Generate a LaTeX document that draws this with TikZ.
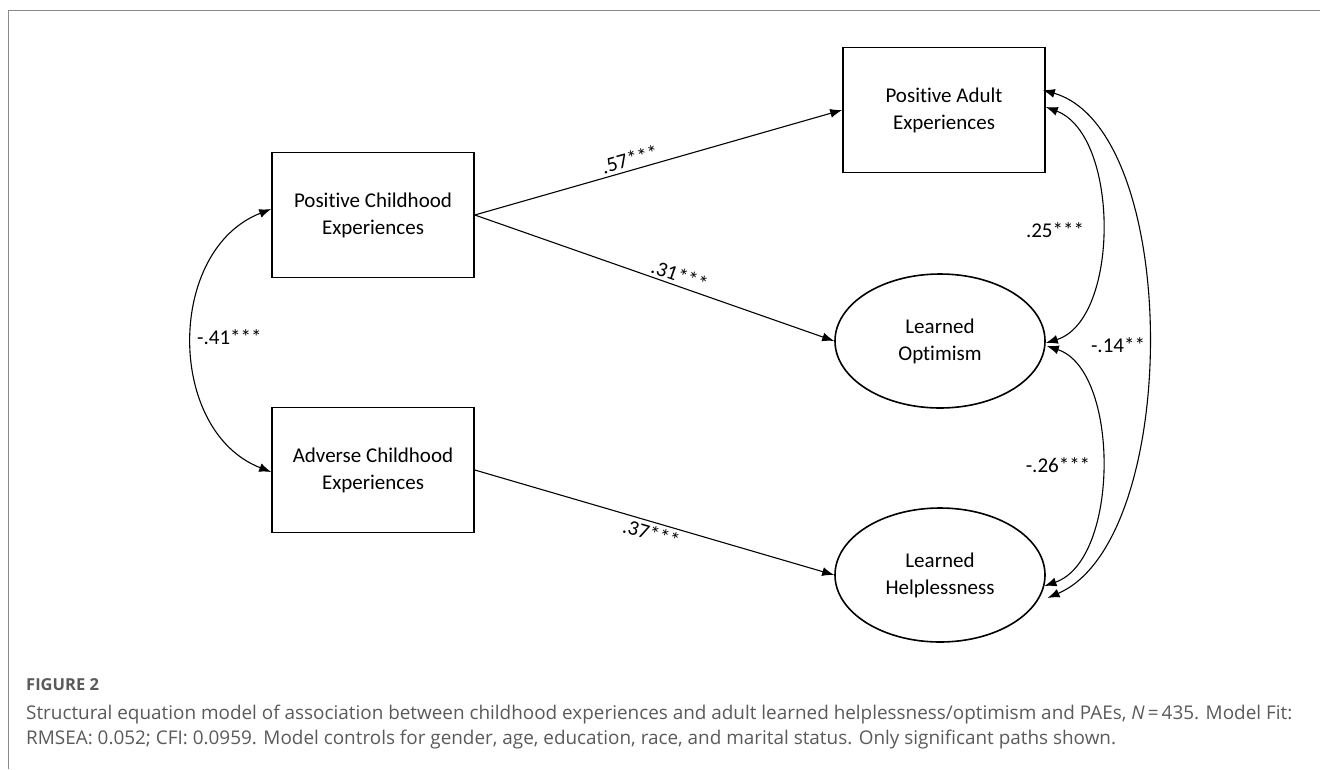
\documentclass[tikz,border=0pt]{standalone}
\usepackage{fontspec}
\setmainfont{Carlito}[Ligatures=CommonOff]
\newfontfamily\capfont{Open Sans}
\usetikzlibrary{arrows.meta,shapes.geometric,calc}
\definecolor{capgray}{HTML}{5A5A5A}
\definecolor{framegray}{HTML}{8A8A8A}
\begin{document}
\begin{tikzpicture}[x=1pt,y=-1pt,
  boxnode/.style={draw,line width=1.6pt,minimum width=202pt,minimum height=125pt,align=center,inner sep=0pt,font=\fontsize{21}{27}\selectfont},
  ellnode/.style={draw,ellipse,line width=1.6pt,minimum width=210pt,minimum height=134pt,align=center,inner sep=0pt,font=\fontsize{21}{27}\selectfont},
  tip/.tip={Latex[length=12pt,width=9pt]},
  conn/.style={line width=1.1pt,-tip},
  biconn/.style={line width=1.1pt,tip-tip},
  coef/.style={font=\fontsize{21}{24}\selectfont,inner sep=3pt},
  captext/.style={font=\capfont\fontsize{18.9}{22}\selectfont,text=capgray,inner sep=0pt,anchor=base west}
]
\useasboundingbox (0,0) rectangle (1320,769);
% frame
\draw[framegray,line width=1pt] (8.5,769) -- (8.5,10.5) -- (1320,10.5);

% nodes
\node[boxnode] (pce) at (373,215) {Positive Childhood\\Experiences};
\node[boxnode] (ace) at (373,470) {Adverse Childhood\\Experiences};
\node[boxnode] (pae) at (944,110) {Positive Adult\\Experiences};
\node[ellnode] (lo) at (940,341) {Learned\\Optimism};
\node[ellnode] (lh) at (940,575) {Learned\\Helplessness};

% directed paths
\draw[conn] (pce.east) -- node[coef,sloped,above,pos=0.43] {.57***} (pae.west);
\draw[conn] (pce.east) -- node[coef,sloped,above,pos=0.56] {.31***} (lo.west);
\draw[conn] (ace.east) -- node[coef,sloped,below,pos=0.5] {.37***} (lh.west);

% covariances
\draw[biconn] ($(pce.west)+(0,-6)$) .. controls (166,250) and (166,431) .. ($(ace.west)+(0,2)$);
\node[coef,anchor=west,inner sep=0pt] (l41) at (197,337) {-.41***};

\draw[biconn] ($(pae.east)+(0,-3)$) .. controls (1120,135) and (1120,320) .. ($(lo.east)+(0,2)$);
\node[coef] (l25) at (1055,230) {.25***};

\draw[biconn] ($(lo.east)+(1,5)$) .. controls (1120,370) and (1120,560) .. (lh.-6);
\node[coef] (l26) at (1058,465) {-.26***};

\draw[biconn] ($(pae.east)+(-3,-20)$) .. controls (1182,130) and (1182,540) .. ($(lh.-13)+(8,0)$);
\node[coef] (l14) at (1118,345) {-.14**};

% caption
\node[captext,font=\capfont\bfseries\fontsize{16.5}{19}\selectfont] (fig) at (26,690) {FIGURE 2};
\node[captext] (cap1) at (26,719) {Structural equation model of association between childhood experiences and adult learned helplessness/optimism and PAEs, \textit{N}\,=\,435. Model Fit:};
\node[captext] (cap2) at (26,744) {RMSEA: 0.052; CFI: 0.0959. Model controls for gender, age, education, race, and marital status. Only significant paths shown.};
\end{tikzpicture}
\end{document}
